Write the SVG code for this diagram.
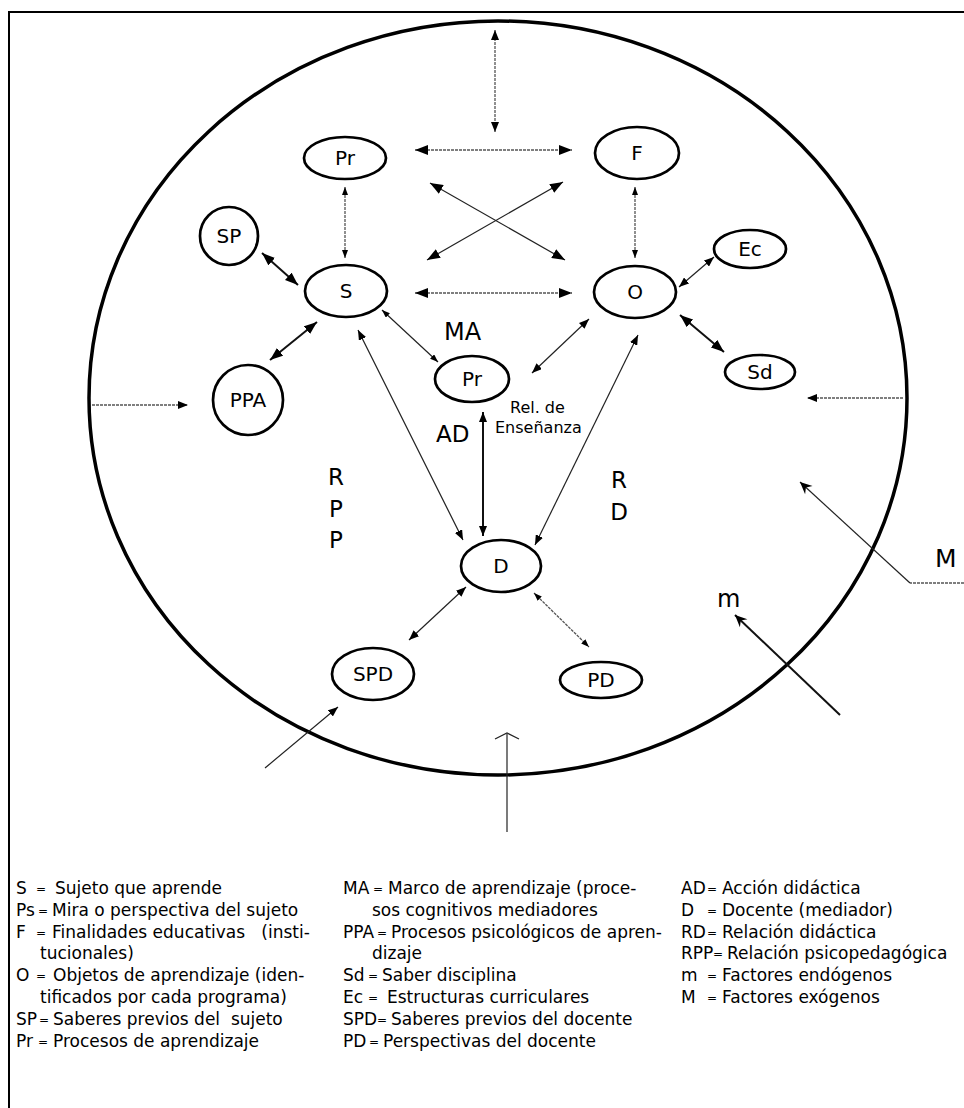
<svg xmlns="http://www.w3.org/2000/svg" width="964" height="1108" viewBox="0 0 964 1108">
<style>
.nd{fill:#fff;stroke:#000;stroke-width:2.7}
.lbl{font-family:"DejaVu Sans","Liberation Sans",sans-serif;font-size:20px;text-anchor:middle;fill:#000}
.t{font-family:"DejaVu Sans","Liberation Sans",sans-serif;fill:#000}
.lg{font-family:"DejaVu Sans","Liberation Sans",sans-serif;font-size:17px;fill:#000}
.eq{font-size:12px}
.c{stroke:#222;stroke-width:1.2;fill:none}
.cg{stroke:#555;stroke-width:1.3;fill:none;stroke-dasharray:3 1}
.ct{stroke:#111;stroke-width:2;fill:none}
</style>
<defs>
<marker id="a" viewBox="0 0 10 8" refX="10" refY="4" markerWidth="10" markerHeight="8" markerUnits="userSpaceOnUse" orient="auto-start-reverse"><path d="M0,0 L10,4 L0,8 z" fill="#000"/></marker>
<marker id="aL" viewBox="0 0 13 10" refX="13" refY="5" markerWidth="13" markerHeight="10" markerUnits="userSpaceOnUse" orient="auto-start-reverse"><path d="M0,0 L13,5 L0,10 z" fill="#000"/></marker>
<marker id="aS" viewBox="0 0 8 6" refX="8" refY="3" markerWidth="8" markerHeight="6" markerUnits="userSpaceOnUse" orient="auto-start-reverse"><path d="M0,0 L8,3 L0,6 z" fill="#000"/></marker>
<marker id="b" viewBox="0 0 14 12" refX="13" refY="6" markerWidth="14" markerHeight="12" markerUnits="userSpaceOnUse" orient="auto"><path d="M1,0.5 L13,6 L1,11.5 L5,6 z" fill="#000"/></marker>
</defs>
<rect width="964" height="1108" fill="#fff"/>
<g id="frame" stroke="#000" stroke-width="2" fill="none">
<path d="M9,1108 V12 H964"/>
</g>
<g id="field">
<ellipse cx="498" cy="398" rx="409" ry="377" fill="none" stroke="#000" stroke-width="3.5"/>
</g>
<g id="connectors">
<line class="cg" x1="495" y1="30" x2="495" y2="132" marker-start="url(#a)" marker-end="url(#a)"/>
<line class="cg" x1="415" y1="150" x2="572" y2="150" marker-start="url(#aL)" marker-end="url(#aL)"/>
<line class="cg" x1="415" y1="293" x2="572" y2="293" marker-start="url(#aL)" marker-end="url(#aL)"/>
<line class="cg" x1="345" y1="187" x2="345" y2="258" marker-start="url(#aS)" marker-end="url(#aS)"/>
<line class="cg" x1="635" y1="187" x2="635" y2="258" marker-start="url(#aS)" marker-end="url(#aS)"/>
<line class="c" x1="430" y1="183" x2="565" y2="260" marker-start="url(#aL)" marker-end="url(#aL)"/>
<line class="c" x1="427" y1="260" x2="563" y2="182" marker-start="url(#aL)" marker-end="url(#aL)"/>
<line class="ct" x1="262" y1="253" x2="298" y2="285" marker-start="url(#aL)" marker-end="url(#aL)"/>
<line class="ct" x1="270" y1="360" x2="317" y2="322" marker-start="url(#aL)" marker-end="url(#aL)"/>
<line class="c" x1="382" y1="310" x2="438" y2="362" marker-start="url(#aS)" marker-end="url(#aS)"/>
<line class="c" x1="358" y1="330" x2="463" y2="540" marker-start="url(#a)" marker-end="url(#a)"/>
<line class="ct" x1="483" y1="412" x2="483" y2="536" marker-start="url(#a)" marker-end="url(#a)"/>
<line class="c" x1="589" y1="319" x2="532" y2="373" marker-start="url(#a)" marker-end="url(#a)"/>
<line class="c" x1="638" y1="335" x2="535" y2="545" marker-start="url(#a)" marker-end="url(#a)"/>
<line class="c" x1="679" y1="287" x2="714" y2="257" marker-start="url(#a)" marker-end="url(#a)"/>
<line class="ct" x1="680" y1="315" x2="724" y2="352" marker-start="url(#aL)" marker-end="url(#aL)"/>
<line class="cg" x1="92" y1="405" x2="188" y2="405" marker-end="url(#a)"/>
<line class="cg" x1="903" y1="398" x2="807" y2="398" marker-end="url(#a)"/>
<path class="cg" d="M964,583 H910"/>
<line class="c" x1="910" y1="583" x2="800" y2="482" marker-end="url(#b)"/>
<line class="ct" x1="840" y1="715" x2="735" y2="615" marker-end="url(#b)"/>
<line class="c" x1="507" y1="832" x2="507" y2="734"/>
<path class="c" d="M495,739 L507,733 L519,739" stroke-width="1.6"/>
<line class="c" x1="265" y1="768" x2="338" y2="707" marker-end="url(#a)"/>
<line class="c" x1="466" y1="587" x2="409" y2="640" marker-start="url(#a)" marker-end="url(#a)"/>
<line class="cg" x1="534" y1="593" x2="589" y2="647" stroke="#777" marker-start="url(#aS)" marker-end="url(#aS)"/>
</g>
<g id="node-Pr1"><ellipse class="nd" cx="345" cy="158" rx="41" ry="21"/><text class="lbl" x="345" y="165">Pr</text></g>
<g id="node-F"><ellipse class="nd" cx="637" cy="153" rx="42" ry="26"/><text class="lbl" x="637" y="160">F</text></g>
<g id="node-SP"><ellipse class="nd" cx="229" cy="236" rx="29" ry="29"/><text class="lbl" x="229" y="243">SP</text></g>
<g id="node-S"><ellipse class="nd" cx="346" cy="291" rx="41" ry="26"/><text class="lbl" x="346" y="298">S</text></g>
<g id="node-O"><ellipse class="nd" cx="635" cy="292" rx="41" ry="26"/><text class="lbl" x="635" y="299">O</text></g>
<g id="node-Ec"><ellipse class="nd" cx="750" cy="249" rx="36" ry="19"/><text class="lbl" x="750" y="256">Ec</text></g>
<g id="node-PPA"><ellipse class="nd" cx="248" cy="400" rx="35" ry="35"/><text class="lbl" x="248" y="407">PPA</text></g>
<g id="node-Pr2"><ellipse class="nd" cx="472" cy="379" rx="37" ry="23"/><text class="lbl" x="472" y="386">Pr</text></g>
<g id="node-Sd"><ellipse class="nd" cx="760" cy="372" rx="35" ry="17"/><text class="lbl" x="760" y="379">Sd</text></g>
<g id="node-D"><ellipse class="nd" cx="501" cy="566" rx="40" ry="26"/><text class="lbl" x="501" y="573">D</text></g>
<g id="node-SPD"><ellipse class="nd" cx="373" cy="674" rx="41" ry="26"/><text class="lbl" x="373" y="681">SPD</text></g>
<g id="node-PD"><ellipse class="nd" cx="601" cy="680" rx="41" ry="18"/><text class="lbl" x="601" y="687">PD</text></g>
<g id="labels">
<text class="t" x="444" y="340" font-size="24">MA</text>
<text class="t" x="436" y="442" font-size="23">AD</text>
<text class="t" x="510" y="413" font-size="16">Rel. de</text>
<text class="t" x="495" y="433" font-size="16">Enseñanza</text>
<text class="t" x="336" y="485" font-size="23" text-anchor="middle">R</text>
<text class="t" x="336" y="517" font-size="23" text-anchor="middle">P</text>
<text class="t" x="336" y="548" font-size="23" text-anchor="middle">P</text>
<text class="t" x="619" y="488" font-size="23" text-anchor="middle">R</text>
<text class="t" x="619" y="520" font-size="23" text-anchor="middle">D</text>
<text class="t" x="935" y="567" font-size="25">M</text>
<text class="t" x="717" y="607" font-size="24">m</text>
</g>
<g id="legend" class="lg">
<text x="16" y="894">S</text><text class="eq" x="36" y="893">=</text><text x="55" y="894">Sujeto que aprende</text>
<text x="16" y="916">Ps</text><text class="eq" x="38" y="915">=</text><text x="52" y="916">Mira o perspectiva del sujeto</text>
<text x="16" y="938">F</text><text class="eq" x="36" y="937">=</text><text x="52" y="938" xml:space="preserve">Finalidades educativas   (insti-</text>
<text x="40" y="959">tucionales)</text>
<text x="16" y="981">O</text><text class="eq" x="36" y="980">=</text><text x="53" y="981">Objetos de aprendizaje (iden-</text>
<text x="40" y="1003">tificados por cada programa)</text>
<text x="16" y="1025">SP</text><text class="eq" x="39" y="1024">=</text><text x="53" y="1025" xml:space="preserve">Saberes previos del  sujeto</text>
<text x="16" y="1047">Pr</text><text class="eq" x="38" y="1046">=</text><text x="53" y="1047">Procesos de aprendizaje</text>
<text x="343" y="894">MA</text><text class="eq" x="373" y="893">=</text><text x="388" y="894">Marco de aprendizaje (proce-</text>
<text x="372" y="916">sos cognitivos mediadores</text>
<text x="343" y="938">PPA</text><text class="eq" x="377" y="937">=</text><text x="391" y="938">Procesos psicológicos de apren-</text>
<text x="372" y="959">dizaje</text>
<text x="343" y="981">Sd</text><text class="eq" x="368" y="980">=</text><text x="382" y="981">Saber disciplina</text>
<text x="343" y="1003">Ec</text><text class="eq" x="368" y="1002">=</text><text x="387" y="1003">Estructuras curriculares</text>
<text x="343" y="1025">SPD</text><text class="eq" x="377" y="1024">=</text><text x="391" y="1025">Saberes previos del docente</text>
<text x="343" y="1047">PD</text><text class="eq" x="369" y="1046">=</text><text x="383" y="1047">Perspectivas del docente</text>
<text x="681" y="894">AD</text><text class="eq" x="707" y="893">=</text><text x="722" y="894">Acción didáctica</text>
<text x="681" y="916">D</text><text class="eq" x="707" y="915">=</text><text x="722" y="916">Docente (mediador)</text>
<text x="681" y="938">RD</text><text class="eq" x="707" y="937">=</text><text x="722" y="938">Relación didáctica</text>
<text x="681" y="959">RPP</text><text class="eq" x="713" y="958">=</text><text x="727" y="959">Relación psicopedagógica</text>
<text x="681" y="981">m</text><text class="eq" x="707" y="980">=</text><text x="722" y="981">Factores endógenos</text>
<text x="681" y="1003">M</text><text class="eq" x="707" y="1002">=</text><text x="722" y="1003">Factores exógenos</text>
</g>
</svg>
